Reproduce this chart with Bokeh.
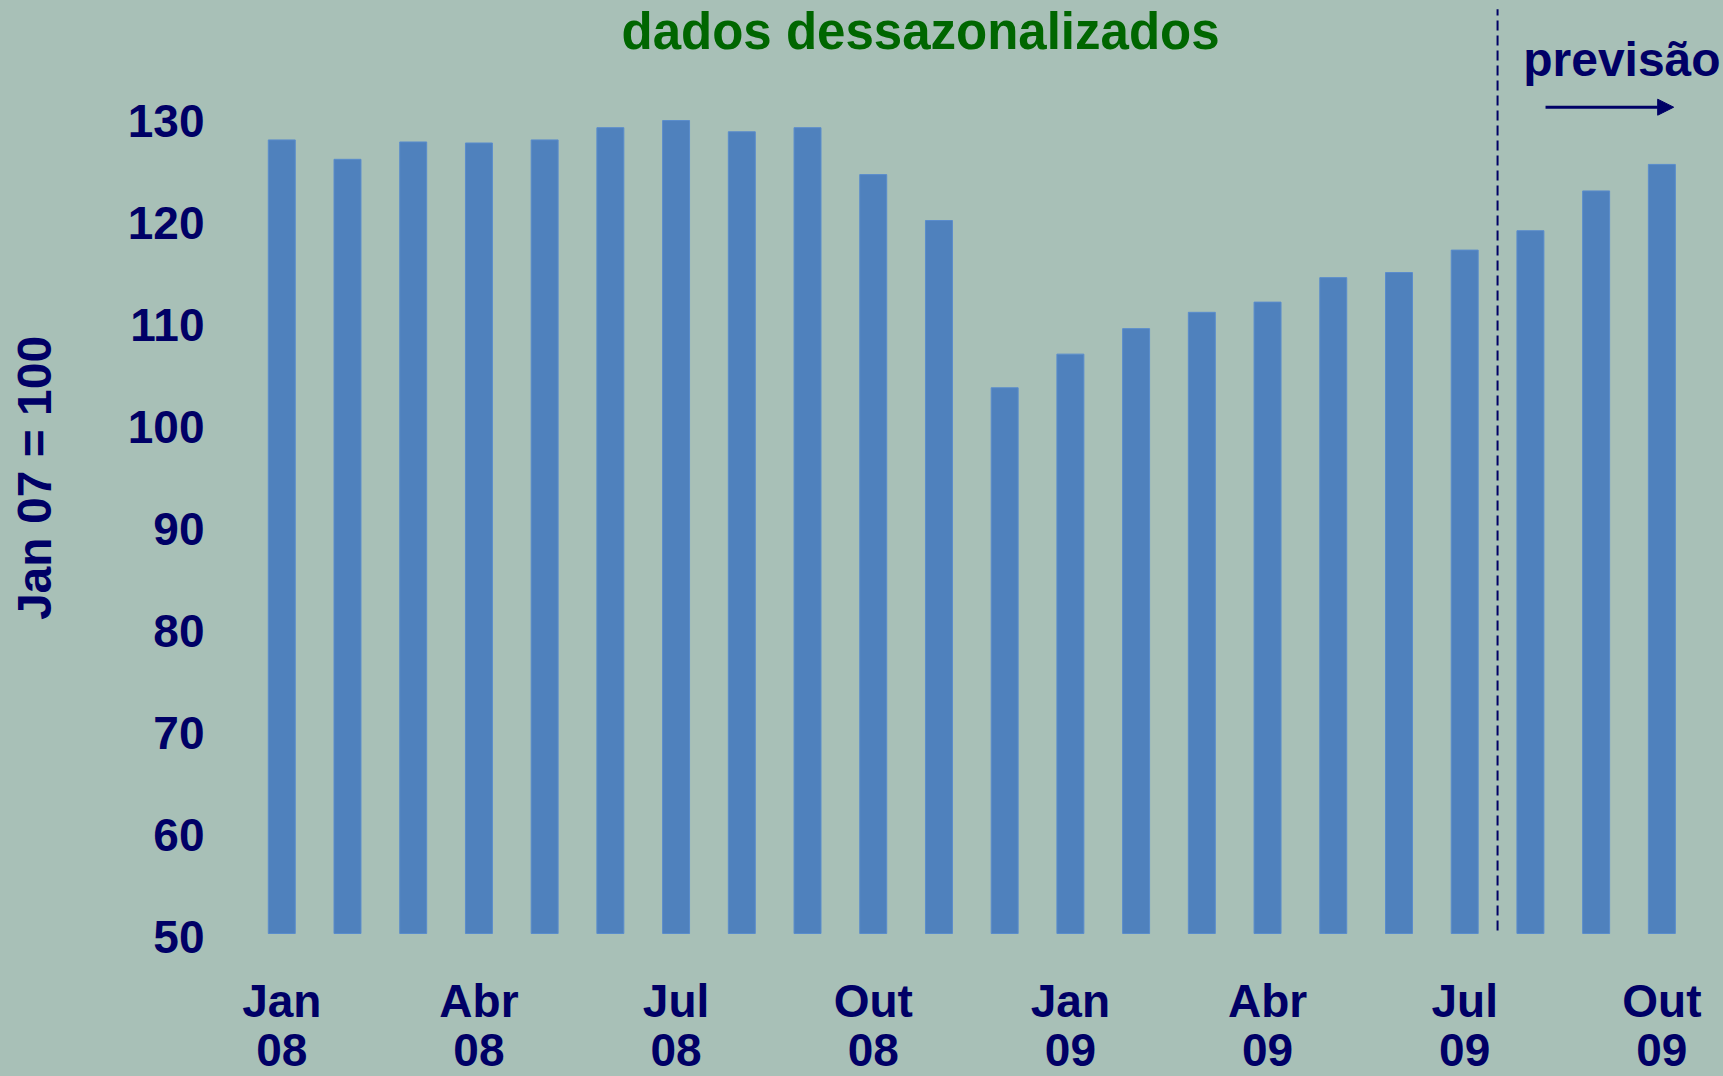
from math import pi
from bokeh.plotting import figure
from bokeh.models import Range1d, Label, Arrow, NormalHead, ColumnDataSource
from bokeh.core.properties import value
from bokeh.embed import file_html
from bokeh.resources import INLINE

# ---- data ----
months = ["Jan", "Fev", "Mar", "Abr", "Mai", "Jun", "Jul", "Ago", "Set", "Out", "Nov", "Dez",
          "Jan", "Fev", "Mar", "Abr", "Mai", "Jun", "Jul", "Ago", "Set", "Out"]
years = ["08"] * 12 + ["09"] * 10
index_values = [127.8, 125.9, 127.6, 127.5, 127.8, 129.0, 129.7, 128.6, 129.0, 124.4, 119.9,
                103.5, 106.8, 109.3, 110.9, 111.9, 114.3, 114.8, 117.0, 118.9, 122.8, 125.4]
n_actual = 19            # months Jan 08 .. Jul 09 are observed, the rest is forecast
label_every = 3          # tick label every quarter
y_ticks = [50, 60, 70, 80, 90, 100, 110, 120, 130]
baseline = 50
title_text = "dados dessazonalizados"
forecast_text = "previsão"
y_title = "Jan 07 = 100"

# ---- styling ----
BG = "#a8c0b7"
BAR = "#4f81bd"
NAVY = "#000066"
GREEN = "#006600"
FONT = "Liberation Sans"

xs = [i + 0.5 for i in range(len(index_values))]

p = figure(width=1723, height=1076, output_backend="svg", toolbar_location=None,
           x_range=Range1d(-3.780, 22.438), y_range=Range1d(35.98, 141.47),
           x_axis_location=None, y_axis_location=None,
           min_border_left=0, min_border_right=0, min_border_top=0, min_border_bottom=0)
p.background_fill_color = BG
p.border_fill_color = BG
p.outline_line_color = None
p.xgrid.visible = False
p.ygrid.visible = False

src = ColumnDataSource(dict(x=xs, top=index_values))
p.vbar(x="x", top="top", bottom=baseline, width=0.41, source=src,
       fill_color=BAR, line_color="#5a8ccc", line_width=1)

# y tick labels
ytick_src = ColumnDataSource(dict(y=y_ticks, t=[str(t) for t in y_ticks]))
p.text(x=-0.676, y="y", text="t", source=ytick_src, text_align="right",
       text_baseline="middle", y_offset=4, text_font=value(FONT), text_font_style="bold",
       text_font_size="46px", text_color=NAVY)

# x tick labels (two lines)
lab_idx = list(range(0, len(months), label_every))
tick_src = ColumnDataSource(dict(x=[xs[i] for i in lab_idx],
                                 m=[months[i] for i in lab_idx],
                                 yr=[years[i] for i in lab_idx]))
p.text(x="x", y=43.40, text="m", source=tick_src, text_align="center",
       text_baseline="middle", text_font=value(FONT), text_font_style="bold",
       text_font_size="46px", text_color=NAVY)
p.text(x="x", y=38.59, text="yr", source=tick_src, text_align="center",
       text_baseline="middle", text_font=value(FONT), text_font_style="bold",
       text_font_size="46px", text_color=NAVY)

# forecast divider
p.segment(x0=[n_actual], y0=[baseline + 0.3], x1=[n_actual], y1=[140.6],
          line_color=NAVY, line_width=2, line_dash="10 5")

# title
p.add_layout(Label(x=10.22, y=138.44, text=title_text, text_align="center",
                   text_baseline="middle", text_font=FONT, text_font_style="bold",
                   text_font_size="51px", text_color=GREEN))
# forecast label and arrow
p.add_layout(Label(x=19.39, y=135.72, text=forecast_text, text_align="left",
                   text_baseline="middle", text_font=FONT, text_font_style="bold",
                   text_font_size="48px", text_color=NAVY))
p.add_layout(Arrow(end=NormalHead(size=16, fill_color=NAVY, line_color=NAVY),
                   x_start=19.73, y_start=131.01, x_end=21.68, y_end=131.01,
                   line_color=NAVY, line_width=3))
# y axis title
p.add_layout(Label(x=-3.26, y=94.66, text=y_title, angle=pi / 2, text_align="center",
                   text_baseline="middle", text_font=FONT, text_font_style="bold",
                   text_font_size="48px", text_color=NAVY))

html = file_html(p, INLINE)
html = html.replace("</head>", "<style>html,body{background:%s;}</style></head>" % BG, 1)
open("out.html", "w").write(html)
